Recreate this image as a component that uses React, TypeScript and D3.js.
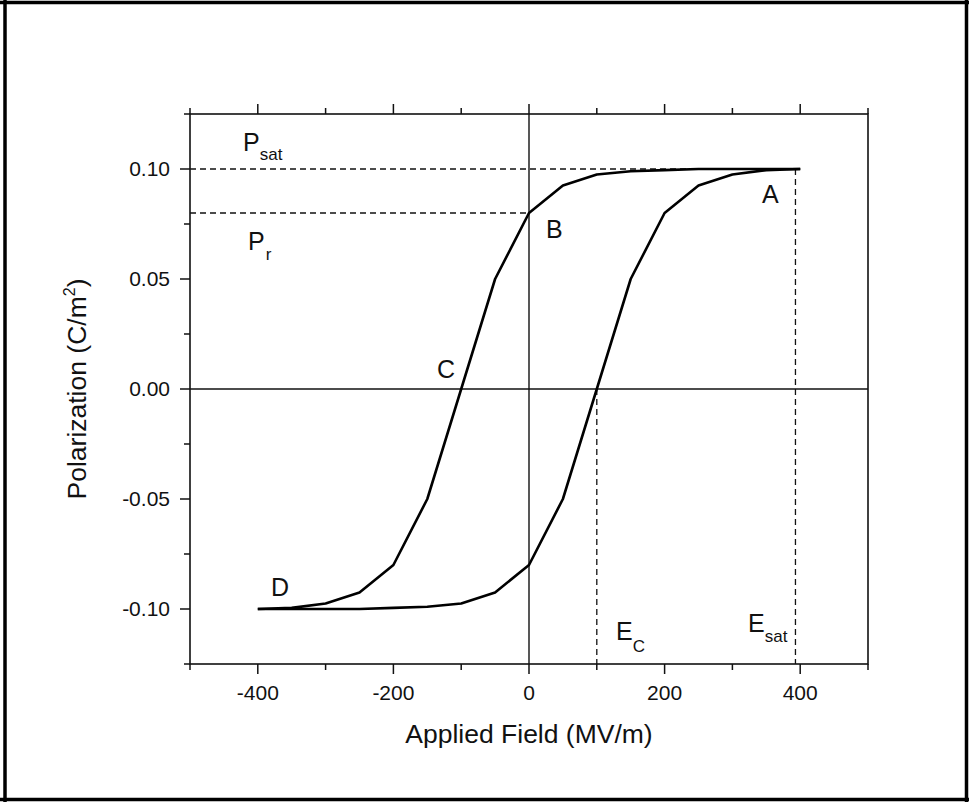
import React from "react";
import * as d3 from "d3";

const fieldValues = [-400, -350, -300, -250, -200, -150, -100, -50, 0, 50, 100, 150, 200, 250, 300, 350, 400];
const upperBranch = [-0.1, -0.0995, -0.0975, -0.0925, -0.08, -0.05, 0, 0.05, 0.08, 0.0925, 0.0975, 0.099, 0.0995, 0.1, 0.1, 0.1, 0.1];
const lowerBranch = [-0.1, -0.1, -0.1, -0.1, -0.0995, -0.099, -0.0975, -0.0925, -0.08, -0.05, 0, 0.05, 0.08, 0.0925, 0.0975, 0.0995, 0.1];

const xMajorTicks = [-400, -200, 0, 200, 400];
const xMinorTicks = [-500, -300, -100, 100, 300, 500];
const yMajorTicks = [-0.1, -0.05, 0, 0.05, 0.1];
const yMinorTicks = [-0.125, -0.075, -0.025, 0.025, 0.075, 0.125];

const pSat = 0.1;
const pRem = 0.08;
const eCoercive = 100;
const eSat = 393;

const W = 969;
const H = 802;
const FONT = "'Liberation Sans', Arial, Helvetica, sans-serif";

export default function App() {
  const x = d3.scaleLinear().domain([-500, 500]).range([190, 868]);
  const y = d3.scaleLinear().domain([-0.125, 0.125]).range([664, 114]);
  const [x0, x1] = x.range();
  const [y0, y1] = y.range();

  const line = d3
    .line<number>()
    .x((_, i) => x(fieldValues[i]))
    .y((d) => y(d));

  const dash = "6,4";
  const dashStroke = "#111";

  return (
    <div style={{ position: "absolute", left: 0, top: 0, width: W, height: H, background: "#fff" }}>
      <svg width={W} height={H} style={{ display: "block" }} fontFamily={FONT}>
        <rect x={0} y={0} width={W} height={H} fill="#fff" />
        <line x1={0} x2={W} y1={2.5} y2={2.5} stroke="#000" strokeWidth={3.5} />
        <line x1={0} x2={W} y1={799.5} y2={799.5} stroke="#000" strokeWidth={3.5} />
        <line x1={5} x2={5} y1={0} y2={H} stroke="#000" strokeWidth={3.5} />
        <line x1={966.5} x2={966.5} y1={0} y2={H} stroke="#000" strokeWidth={3.5} />

        {/* dashed guides */}
        <line x1={x0} x2={x(eSat + 7)} y1={y(pSat)} y2={y(pSat)} stroke={dashStroke} strokeWidth={1.3} strokeDasharray={dash} />
        <line x1={x0} x2={x(0)} y1={y(pRem)} y2={y(pRem)} stroke={dashStroke} strokeWidth={1.3} strokeDasharray={dash} />
        <line x1={x(eCoercive)} x2={x(eCoercive)} y1={y(0)} y2={y0} stroke={dashStroke} strokeWidth={1.3} strokeDasharray={dash} />
        <line x1={x(eSat)} x2={x(eSat)} y1={y(pSat)} y2={y0} stroke={dashStroke} strokeWidth={1.3} strokeDasharray={dash} />

        {/* zero lines */}
        <line x1={x0} x2={x1} y1={y(0)} y2={y(0)} stroke="#111" strokeWidth={1.4} />
        <line x1={x(0)} x2={x(0)} y1={y0} y2={y1} stroke="#111" strokeWidth={1.4} />

        {/* curves */}
        <path d={line(upperBranch) || ""} fill="none" stroke="#000" strokeWidth={2.6} strokeLinejoin="round" />
        <path d={line(lowerBranch) || ""} fill="none" stroke="#000" strokeWidth={2.6} strokeLinejoin="round" />

        {/* frame */}
        <rect x={x0} y={y1} width={x1 - x0} height={y0 - y1} fill="none" stroke="#111" strokeWidth={1.6} />

        {/* x ticks */}
        {xMajorTicks.map((t) => (
          <g key={"xM" + t}>
            <line x1={x(t)} x2={x(t)} y1={y0} y2={y0 + 10} stroke="#111" strokeWidth={1.5} />
            <line x1={x(t)} x2={x(t)} y1={y1} y2={y1 - 10} stroke="#111" strokeWidth={1.5} />
            <text x={x(t)} y={700} textAnchor="middle" fontSize={21} fill="#111">
              {t}
            </text>
          </g>
        ))}
        {xMinorTicks.map((t) => (
          <g key={"xm" + t}>
            <line x1={x(t)} x2={x(t)} y1={y0} y2={y0 + 6} stroke="#111" strokeWidth={1.5} />
            <line x1={x(t)} x2={x(t)} y1={y1} y2={y1 - 6} stroke="#111" strokeWidth={1.5} />
          </g>
        ))}

        {/* y ticks */}
        {yMajorTicks.map((t) => (
          <g key={"yM" + t}>
            <line x1={x0} x2={x0 - 10} y1={y(t)} y2={y(t)} stroke="#111" strokeWidth={1.5} />
            <text x={170} y={y(t) + 7} textAnchor="end" fontSize={21} fill="#111">
              {d3.format(".2f")(t).replace("−", "-")}
            </text>
          </g>
        ))}
        {yMinorTicks.map((t) => (
          <line key={"ym" + t} x1={x0} x2={x0 - 6} y1={y(t)} y2={y(t)} stroke="#111" strokeWidth={1.5} />
        ))}

        {/* axis titles */}
        <text x={(x0 + x1) / 2} y={743} textAnchor="middle" fontSize={26.5} fill="#111">
          Applied Field (MV/m)
        </text>
        <text transform={`translate(86, ${(y0 + y1) / 2}) rotate(-90)`} textAnchor="middle" fontSize={26.5} fill="#111">
          Polarization (C/m
          <tspan fontSize={16} dy={-11}>2</tspan>
          <tspan dy={11}>)</tspan>
        </text>

        {/* annotations */}
        <text x={243} y={151} fontSize={25} fill="#111">
          P<tspan fontSize={17} dy={9}>sat</tspan>
        </text>
        <text x={248} y={250} fontSize={25} fill="#111">
          P<tspan fontSize={17} dy={10} dx={1}>r</tspan>
        </text>
        <text x={762} y={203} fontSize={25} fill="#111">A</text>
        <text x={546} y={238} fontSize={25} fill="#111">B</text>
        <text x={437} y={378} fontSize={25} fill="#111">C</text>
        <text x={271} y={596} fontSize={25} fill="#111">D</text>
        <text x={616} y={640} fontSize={25} fill="#111">
          E<tspan fontSize={17} dy={12}>C</tspan>
        </text>
        <text x={748} y={632} fontSize={25} fill="#111">
          E<tspan fontSize={17} dy={10}>sat</tspan>
        </text>
      </svg>
    </div>
  );
}
